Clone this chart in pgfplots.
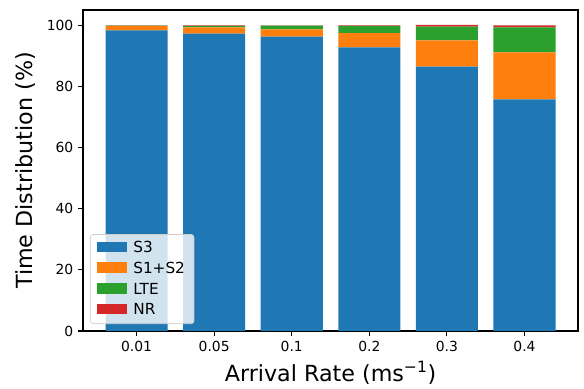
\documentclass[border=0pt]{standalone}
\usepackage{pgfplots}
\pgfplotsset{compat=1.18}
\usepackage{fontspec}
\setmainfont{DejaVu Sans}
\definecolor{c0}{HTML}{1F77B4}
\definecolor{c1}{HTML}{FF7F0E}
\definecolor{c2}{HTML}{2CA02C}
\definecolor{c3}{HTML}{D62728}
\begin{document}
\begin{tikzpicture}
\useasboundingbox (0,0) rectangle (420.5pt,279.4pt);
\begin{axis}[
  at={(59.8pt,41.1pt)}, anchor=south west,
  scale only axis, width=356.4pt, height=231.1pt,
  ybar stacked, bar width=0.8, bar shift=0pt,
  xmin=-0.69, xmax=5.69, ymin=0, ymax=105,
  xtick={0,1,2,3,4,5},
  xticklabels={0.01,0.05,0.1,0.2,0.3,0.4},
  ytick={0,20,40,60,80,100},
  tick align=outside, major tick length=3.5pt,
  xtick pos=bottom, ytick pos=left,
  tick style={black, line width=0.8pt},
  axis line style={line width=0.8pt},
  /pgf/number format/assume math mode=true,
  ticklabel style={font=\fontsize{10}{12}\selectfont},
  xlabel={Arrival Rate (ms\textsuperscript{−1})},
  ylabel={Time Distribution (\%)},
  label style={font=\fontsize{16}{19}\selectfont},
  xlabel style={at={(axis description cs:0.5,-0.131)}, anchor=center},
  ylabel style={at={(axis description cs:-0.117,0.5)}, anchor=center, rotate=0},
  legend cell align=left,
  legend style={at={(axis cs:-0.69,0)}, anchor=south west, xshift=5pt, yshift=5pt,
    fill=white, fill opacity=0.8, text opacity=1, draw=black!20, rounded corners=2pt,
    font=\fontsize{11}{13}\selectfont, row sep=1.3pt, inner xsep=4.5pt, inner ysep=3pt},
  legend image code/.code={\fill[#1, fill opacity=1, sharp corners] (0pt,-3pt) rectangle (22pt,4.7pt); \path (24.5pt,0pt);},
]
\addplot[fill=c0, draw=none] coordinates {(0,98.3) (1,97.3) (2,96.3) (3,92.8) (4,86.5) (5,75.8)};
\addplot[fill=c1, draw=none] coordinates {(0,1.5) (1,2.0) (2,2.4) (3,4.6) (4,8.6) (5,15.3)};
\addplot[fill=c2, draw=none] coordinates {(0,0.1) (1,0.5) (2,1.2) (3,2.4) (4,4.5) (5,8.2)};
\addplot[fill=c3, draw=none] coordinates {(0,0.1) (1,0.2) (2,0.1) (3,0.2) (4,0.5) (5,0.7)};
\legend{S3,S1+S2,LTE,NR}
\end{axis}
\end{tikzpicture}
\end{document}
